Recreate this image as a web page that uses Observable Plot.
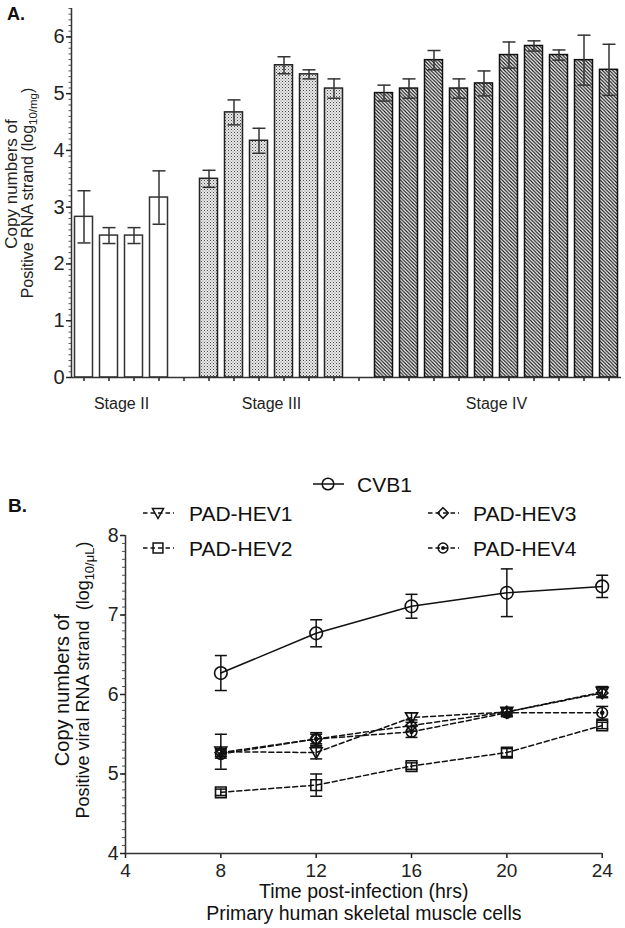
<!DOCTYPE html>
<html><head><meta charset="utf-8">
<script src="https://cdn.jsdelivr.net/npm/d3@7"></script>
<script src="https://cdn.jsdelivr.net/npm/@observablehq/plot@0.6"></script>
<style>
body{margin:0;background:#fff;font-family:"Liberation Sans",Arial,Helvetica,sans-serif;}
#wrap{position:relative;width:625px;height:928px;overflow:hidden;background:#fff;}
#panelA{position:absolute;left:0;top:0;}
#panelB{position:absolute;left:0;top:430px;}
svg text{white-space:pre;}
</style></head><body>
<svg width="0" height="0" style="position:absolute">
<defs>
<pattern id="dots" width="3" height="3" patternUnits="userSpaceOnUse">
 <rect width="3" height="3" fill="#e6e6e6"/>
 <rect width="1" height="1" fill="#4a4a4a"/>
 <rect x="1.5" y="1.5" width="1" height="1" fill="#8a8a8a"/>
</pattern>
<pattern id="hatch" width="3.5" height="3.5" patternUnits="userSpaceOnUse">
 <rect width="3.5" height="3.5" fill="#fff"/>
 <path d="M-1,-1L4.5,4.5M-1,2.5L1,4.5M2.5,-1L4.5,1" stroke="#111" stroke-width="1.15"/>
</pattern>
</defs></svg>
<div id="wrap"><div id="panelA"></div><div id="panelB"></div></div>
<script>
// ---------- DATA: panel A ----------
const stageLabels = ["Stage II", "Stage III", "Stage IV"];
const stageIIMeans = [2.83, 2.50, 2.50, 3.17];
const stageIIErr = [0.46, 0.14, 0.14, 0.47];
const stageIIIMeans = [3.50, 4.67, 4.17, 5.50, 5.34, 5.09];
const stageIIIErr = [0.15, 0.22, 0.22, 0.15, 0.08, 0.17];
const stageIVMeans = [5.01, 5.09, 5.59, 5.09, 5.18, 5.68, 5.84, 5.68, 5.59, 5.42];
const stageIVErr = [0.14, 0.17, 0.17, 0.17, 0.22, 0.23, 0.09, 0.09, 0.44, 0.45];
const yTicksA = [0, 1, 2, 3, 4, 5, 6];

// ---------- DATA: panel B ----------
const hours = [8, 12, 16, 20, 24];
const seriesNames = ["CVB1", "PAD-HEV1", "PAD-HEV2", "PAD-HEV3", "PAD-HEV4"];
const cvb1 = [6.27, 6.77, 7.11, 7.28, 7.36];
const cvb1Err = [0.22, 0.17, 0.15, 0.30, 0.14];
const hev1 = [5.28, 5.27, 5.71, 5.78, 6.03];
const hev1Err = [0.22, 0.08, 0.06, 0.05, 0.07];
const hev2 = [4.77, 4.86, 5.10, 5.27, 5.61];
const hev2Err = [0.04, 0.14, 0.04, 0.05, 0.04];
const hev3 = [5.27, 5.44, 5.61, 5.78, 6.02];
const hev3Err = [0.05, 0.06, 0.07, 0.05, 0.05];
const hev4 = [5.25, 5.44, 5.53, 5.77, 5.77];
const hev4Err = [0.05, 0.08, 0.07, 0.05, 0.08];
const xTicksB = [4, 8, 12, 16, 20, 24];
const yTicksB = [4, 5, 6, 7, 8];

const FONT = '"Liberation Sans", Arial, Helvetica, sans-serif';
const fmtInt = d3.format("d");
const hline = {draw(ctx, size) { const r = Math.sqrt(size / Math.PI); ctx.moveTo(-r, 0); ctx.lineTo(r, 0); }};
const triDown = {draw(ctx, size) { const r = Math.sqrt(size / Math.PI); ctx.moveTo(-r, -0.8 * r); ctx.lineTo(r, -0.8 * r); ctx.lineTo(0, r); ctx.closePath(); }};

// ---------- PANEL A ----------
const groupsA = [[stageIIMeans, stageIIErr], [stageIIIMeans, stageIIIErr], [stageIVMeans, stageIVErr]];
const bars = [];
let slot = 0;
groupsA.forEach(([means, errs], g) => {
  means.forEach((m, j) => bars.push({g, slot: slot++, value: m, err: errs[j]}));
  slot++; // gap between stages
});
const nSlots = slot - 1;
const stageCenters = stageLabels.map((label, g) => ({label, center: d3.mean(bars.filter(b => b.g === g), b => b.slot)}));
const hw = 0.36;
const fillsA = ["white", "url(#dots)", "url(#hatch)"];
const strokesA = ["#333", "#222", "#111"];

const plotA = Plot.plot({
  width: 625, height: 425,
  marginLeft: 71, marginRight: 4, marginTop: 8, marginBottom: 48,
  x: {domain: [-0.5, nSlots - 0.5], label: null},
  y: {domain: [0, 6.5], label: null},
  style: {fontFamily: FONT, color: "#222", background: "white", overflow: "visible"},
  marks: [
    ...fillsA.map((f, g) => Plot.rect(bars.filter(b => b.g === g), {
      x1: b => b.slot - hw, x2: b => b.slot + hw, y1: 0, y2: "value",
      fill: f, stroke: strokesA[g], strokeWidth: 1.5
    })),
    Plot.ruleX(bars, {x: "slot", y1: b => b.value - b.err, y2: b => b.value + b.err, stroke: "#333", strokeWidth: 1.5}),
    Plot.dot(bars, {x: "slot", y: b => b.value + b.err, symbol: hline, r: 6.5, stroke: "#333", strokeWidth: 1.5, fill: "none"}),
    Plot.dot(bars, {x: "slot", y: b => b.value - b.err, symbol: hline, r: 6.5, stroke: "#333", strokeWidth: 1.5, fill: "none"}),
    Plot.axisY({ticks: d3.range(0, 6.51, 0.1), tickSize: 2.5, tickFormat: () => "", label: null, stroke: "#555"}),
    Plot.axisY({ticks: yTicksA, tickSize: 5, tickPadding: 2, tickFormat: fmtInt, fontSize: 20, label: null, strokeWidth: 1.5}),
    Plot.axisX({ticks: d3.range(nSlots), tickSize: 4, tickFormat: () => "", label: null, strokeWidth: 1.5}),
    Plot.ruleX([-0.5], {stroke: "#333", strokeWidth: 1.5}),
    Plot.ruleY([0], {stroke: "#333", strokeWidth: 1.5}),
    Plot.text(stageCenters, {x: "center", text: "label", frameAnchor: "bottom", dy: 31, fontSize: 16, fill: "#222"})
  ]
});
document.getElementById("panelA").append(plotA);
{
  const svg = d3.select(plotA);
  svg.append("text").attr("x", 7).attr("y", 20).attr("text-anchor", "start").attr("font-size", 18).attr("font-weight", "bold")
    .attr("font-family", FONT).attr("fill", "#111").text("A.");
  svg.append("text").attr("transform", "translate(11,184) rotate(-90)").attr("text-anchor", "middle").attr("dy", "0.35em")
    .attr("font-size", 17).attr("font-family", FONT).attr("fill", "#222").text("Copy numbers of");
  const t = svg.append("text").attr("transform", "translate(27,193) rotate(-90)").attr("text-anchor", "middle").attr("dy", "0.35em")
    .attr("font-size", 16).attr("font-family", FONT).attr("fill", "#222");
  t.append("tspan").text("Positive RNA strand (log");
  t.append("tspan").attr("font-size", 11.5).attr("dy", 4).text("10/mg");
  t.append("tspan").attr("dy", -4).text(")");
}

// ---------- PANEL B ----------
const valuesB = [cvb1, hev1, hev2, hev3, hev4];
const errsB = [cvb1Err, hev1Err, hev2Err, hev3Err, hev4Err];
const rowsB = seriesNames.flatMap((s, k) => hours.map((h, i) => ({series: s, hour: h, value: valuesB[k][i], err: errsB[k][i]})));
const styleB = {
  "CVB1": {dash: null, symbol: d3.symbolCircle, r: 6.3},
  "PAD-HEV1": {dash: "5,3", symbol: triDown, r: 6},
  "PAD-HEV2": {dash: "5,3", symbol: d3.symbolSquare, r: 6},
  "PAD-HEV3": {dash: "5,3", symbol: d3.symbolDiamond2, r: 5.2},
  "PAD-HEV4": {dash: "5,3", symbol: d3.symbolCircle, r: 5.3, dot: true}
};
const marksB = [];
for (const s of seriesNames) {
  const d = rowsB.filter(r => r.series === s);
  marksB.push(Plot.line(d, {x: "hour", y: "value", stroke: "#111", strokeWidth: 1.5, strokeDasharray: styleB[s].dash ?? undefined}));
}
marksB.push(
  Plot.ruleX(rowsB, {x: "hour", y1: r => r.value - r.err, y2: r => r.value + r.err, stroke: "#111", strokeWidth: 1.5}),
  Plot.dot(rowsB, {x: "hour", y: r => r.value + r.err, symbol: hline, r: 6, stroke: "#111", strokeWidth: 1.5, fill: "none"}),
  Plot.dot(rowsB, {x: "hour", y: r => r.value - r.err, symbol: hline, r: 6, stroke: "#111", strokeWidth: 1.5, fill: "none"})
);
for (const s of seriesNames) {
  const d = rowsB.filter(r => r.series === s);
  marksB.push(Plot.dot(d, {x: "hour", y: "value", symbol: styleB[s].symbol, r: styleB[s].r, stroke: "#111", strokeWidth: 1.6, fill: "none"}));
  if (styleB[s].dot) marksB.push(Plot.dot(d, {x: "hour", y: "value", r: 2.3, fill: "#111", stroke: "none"}));
}
marksB.push(
  Plot.axisY({ticks: d3.range(4, 8.01, 0.1), tickSize: 3, tickFormat: () => "", label: null, stroke: "#555"}),
  Plot.axisY({ticks: yTicksB, tickSize: 5, tickPadding: 2, tickFormat: fmtInt, fontSize: 19.5, label: null, strokeWidth: 1.5}),
  Plot.axisX({ticks: xTicksB, tickSize: 5, tickPadding: 5, tickFormat: fmtInt, fontSize: 19, label: null, strokeWidth: 1.5}),
  Plot.ruleX([4], {stroke: "#333", strokeWidth: 1.5}),
  Plot.ruleY([4], {stroke: "#333", strokeWidth: 1.5}),
  Plot.text(["Time post-infection (hrs)"], {frameAnchor: "bottom", dy: 44, fontSize: 19.5, fill: "#111"}),
  Plot.text(["Primary human skeletal muscle cells"], {frameAnchor: "bottom", dy: 66, fontSize: 19.5, fill: "#111"})
);
const plotB = Plot.plot({
  width: 625, height: 498,
  marginLeft: 125, marginRight: 23.3, marginTop: 105, marginBottom: 75,
  x: {domain: [4, 24], label: null},
  y: {domain: [4, 8], label: null},
  style: {fontFamily: FONT, color: "#222", background: "white", overflow: "visible"},
  marks: marksB
});
document.getElementById("panelB").append(plotB);
{
  const svg = d3.select(plotB);
  const off = 430;
  svg.append("text").attr("x", 8).attr("y", 512 - off).attr("text-anchor", "start").attr("font-size", 19).attr("font-weight", "bold")
    .attr("font-family", FONT).attr("fill", "#111").text("B.");
  svg.append("text").attr("transform", `translate(62,${690 - off}) rotate(-90)`).attr("text-anchor", "middle").attr("dy", "0.35em")
    .attr("font-size", 20).attr("font-family", FONT).attr("fill", "#111").text("Copy numbers of");
  const t = svg.append("text").attr("transform", `translate(83,${680 - off}) rotate(-90)`).attr("text-anchor", "middle").attr("dy", "0.35em")
    .attr("font-size", 18).attr("font-family", FONT).attr("fill", "#111");
  t.append("tspan").text("Positive viral RNA strand  (log");
  t.append("tspan").attr("font-size", 13).attr("dy", 5).text("10/\u03bcL");
  t.append("tspan").attr("dy", -5).text(")");

  // legend
  const legendPos = {
    "CVB1": [328, 484, 357],
    "PAD-HEV1": [158, 513, 189],
    "PAD-HEV2": [158, 548, 189],
    "PAD-HEV3": [443, 513, 473],
    "PAD-HEV4": [443, 548, 473]
  };
  for (const s of seriesNames) {
    const [cx, cy, tx] = legendPos[s];
    const st = styleB[s];
    const g = svg.append("g").attr("transform", `translate(${cx},${cy - off})`);
    g.append("line").attr("x1", -15).attr("x2", 16).attr("stroke", "#111").attr("stroke-width", 1.5)
      .attr("stroke-dasharray", st.dash ? "4.5,3" : null);
    g.append("path").attr("d", d3.symbol().type(st.symbol).size(st.r * st.r * Math.PI * 0.85)())
      .attr("fill", "none").attr("stroke", "#111").attr("stroke-width", 1.5);
    if (st.dot) g.append("circle").attr("r", 2).attr("fill", "#111");
    svg.append("text").attr("x", tx).attr("y", cy - off).attr("dy", "0.36em").attr("text-anchor", "start").attr("font-size", 21)
      .attr("font-family", FONT).attr("fill", "#111").text(s);
  }
}
</script>
</body></html>
